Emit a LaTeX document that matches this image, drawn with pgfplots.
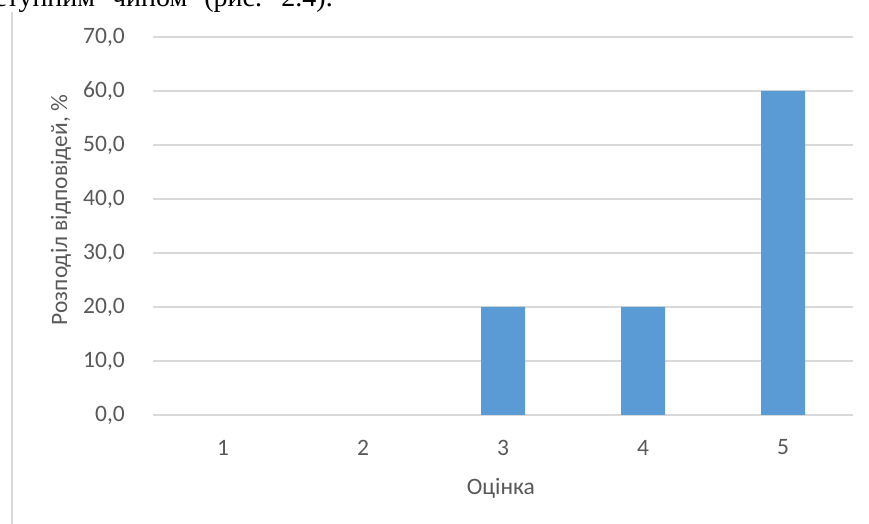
\documentclass[border=0pt]{standalone}
\usepackage{fontspec}
\setmainfont{Carlito}
\newfontfamily\serifcyr{Liberation Serif}
\usepackage{pgfplots}
\pgfplotsset{compat=1.18}
\definecolor{barblue}{HTML}{5B9BD5}
\definecolor{gridgray}{HTML}{D9D9D9}
\definecolor{txtgray}{HTML}{595959}
\begin{document}
\begin{tikzpicture}[x=1bp,y=1bp]
\fill[white] (0,0) rectangle (869,524);
\begin{scope}
\clip (0,0) rectangle (869,524);
\draw[gridgray, line width=2bp] (12,0) -- (12,512);
\node[anchor=base east, font=\serifcyr\fontsize{28bp}{34bp}\selectfont, inner sep=0] at (333,517) {\spaceskip=17bp наступним чином (рис. 2.4).};
\end{scope}
\coordinate (O) at (153,109);
\begin{axis}[
  at={(O)}, anchor=south west, scale only axis,
  width=700bp, height=378bp,
  xmin=0.5, xmax=5.5, ymin=0, ymax=70,
  ytick={0,10,...,70}, xtick={1,2,3,4,5},
  axis lines*=left,
  x axis line style={-, gridgray, line width=2bp},
  y axis line style={draw=none},
  major tick length=0pt,
  ymajorgrids, grid style={gridgray, line width=1.5bp},
  tick label style={font=\fontsize{23.5bp}{28bp}\selectfont, text=txtgray, inner sep=0pt},
  yticklabel style={anchor=east, xshift=-28bp},
  xticklabel style={anchor=center, yshift=-32.5bp},
  /pgf/number format/.cd, fixed, fixed zerofill, precision=1, use comma, assume math mode=true,
  /pgfplots/.cd,
  xticklabel={\pgfmathprintnumber[precision=0,fixed zerofill=false]{\tick}},
  label style={font=\fontsize{23.5bp}{28bp}\selectfont, text=txtgray, inner sep=0pt},
  xlabel={Оцінка},
  ylabel={Розподіл відповідей, \%},
  xlabel style={at={(axis description cs:0.497,-0.193)}, anchor=center},
  ylabel style={at={(axis description cs:-0.1314,0.542)}, anchor=center},
  ybar, bar width=44bp,
]
\addplot[fill=barblue, draw=none, restrict y to domain=0.01:100] coordinates {(1,0) (2,0) (3,20) (4,20) (5,60)};
\end{axis}
\end{tikzpicture}
\end{document}
